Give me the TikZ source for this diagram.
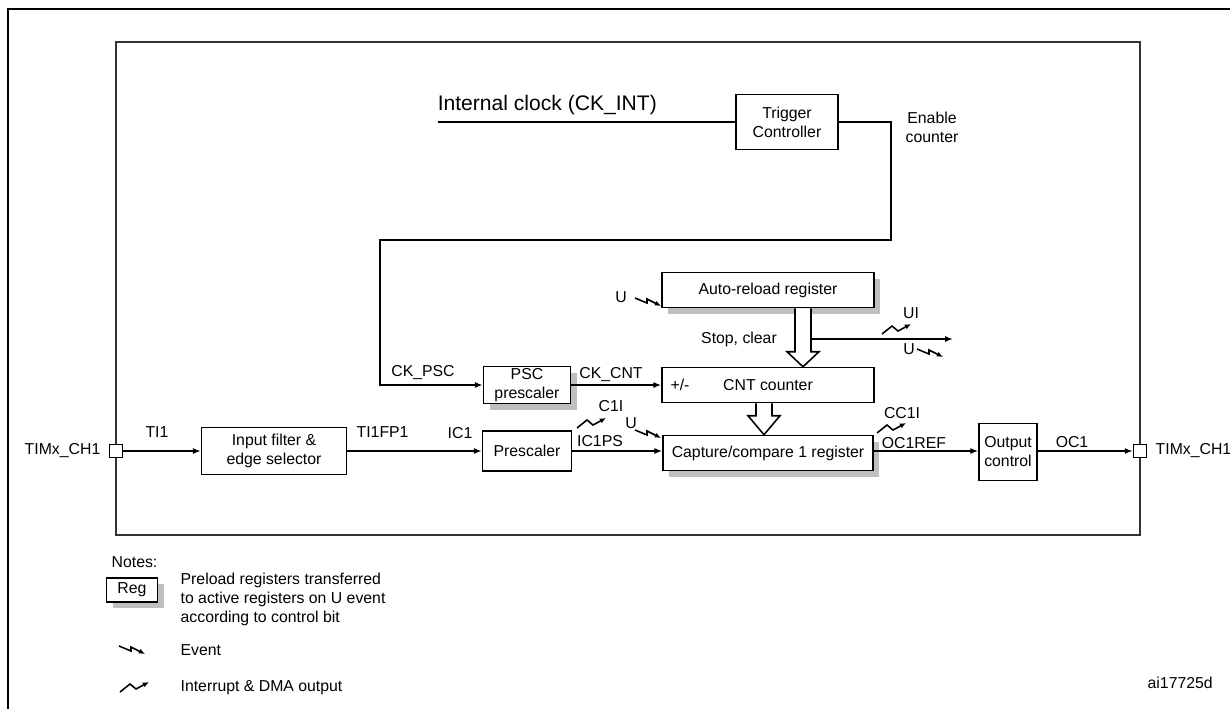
\documentclass[tikz,border=0pt]{standalone}
\usepackage{fontspec}
\setmainfont{Liberation Sans}
\usetikzlibrary{arrows.meta,shadows,calc,positioning}

\tikzset{
  box/.style={draw, fill=white, align=center, inner sep=1pt},
  reg/.style={box, drop shadow={shadow xshift=3.5pt, shadow yshift=-3.5pt, fill=black!25, opacity=1}},
  port/.style={draw, fill=white, minimum size=0.26cm, inner sep=0pt},
  hollow/.style={draw, fill=white},
  evt/.pic={\draw[-{Latex[length=3.5pt,width=3pt]}] (0,0) -- (12,5) -- (12,1) -- (26,8);},
  intr/.pic={\draw[-{Latex[length=3.5pt,width=3pt]}] (0,10) -- (10,2) -- (16,7) -- (29,0);}
}

\begin{document}
\begin{tikzpicture}[x=0.02cm, y=-0.02cm, line width=0.9pt, >={Latex[length=4.5pt,width=3.5pt]},
	font=\fontsize{9}{10.8}\selectfont]
	\useasboundingbox (0,0) rectangle (1230,708);
	% frames
	\draw[line width=1.5pt] (1250,9) -- (8,9) -- (8,730);
	\draw[black!80, line width=1.2pt] (116,42) rectangle (1140,535);
	
	% clock and trigger
	\node[box, minimum width=2.04cm, minimum height=1.1cm] (trig) at (787,122) {Trigger\\Controller};
	\coordinate (clk) at (438,122);
	\node[anchor=base west, inner sep=0pt, font=\fontsize{12}{14}\selectfont] at (437,110) {Internal clock (CK\_INT)};
	\draw (clk) -- (trig);
	\node[align=center] at (932,127) {Enable\\counter};
	\coordinate (bend1) at (891,240);
	\coordinate (bend2) at (380,240);
	
	% counter
	\node[reg, minimum width=4.24cm, minimum height=0.7cm] (arr) at (768,290) {Auto-reload register};
	\node[box, minimum width=4.24cm, minimum height=0.7cm] (cnt) at (768,385) {CNT counter};
	\node[reg, minimum width=1.74cm, minimum height=0.72cm] (psc) at (527,385) {PSC\\prescaler};
	\draw[->] (trig) -| (bend1) -- (bend2) |- (psc);
	\draw[->] (psc) -- (cnt);
	\node at (423,373) {CK\_PSC};
	\node at (611,375) {CK\_CNT};
	\node at (680,385) {+/-};
	\node at (621,297) {U};
	\pic at (635,298) {evt};
	
	\coordinate (h1) at ($(arr.south)+(35,0)$);
	\coordinate (h1e) at ($(cnt.north)+(35,0)$);
	\draw[hollow] ($(h1)+(-8,0)$) -- ($(h1e)+(-8,-15)$) -- ($(h1e)+(-16,-15)$) -- (h1e)
		-- ($(h1e)+(16,-15)$) -- ($(h1e)+(8,-15)$) -- ($(h1)+(8,0)$);
	\coordinate (uiout) at (953,339);
	\draw[->] (uiout -| h1) ++(8,0) -- (uiout);
	\node at (739,339) {Stop, clear};
	\node at (911,313) {UI};
	\pic at (882,324) {intr};
	\node at (909,349) {U};
	\pic at (917,349) {evt};
	
	% channel
	\node[port] (pl) at (116,451) {};
	\node[left=1pt of pl] {TIMx\_CH1};
	\node[box, minimum width=2.9cm, minimum height=0.94cm] (filt) at (274,451) {Input filter \&\\edge selector};
	\node[box, minimum width=1.78cm, minimum height=0.8cm] (pre) at (527,451) {Prescaler};
	\node[reg, minimum width=4.2cm, minimum height=0.7cm] (cap) at (768,453) {Capture/compare 1 register};
	\node[box, minimum width=1.16cm, minimum height=1.14cm] (out) at (1008,452) {Output\\control};
	\node[port] (pr) at (1140,451) {};
	\node[right=1pt of pr] {TIMx\_CH1};
	
	\draw[->] (pl) -- (filt);
	\draw[->] (filt) -- (pre);
	\draw[->] (pre) -- (pre -| cap.west);
	\draw[->] (pre -| cap.east) -- (pre -| out.west);
	\draw[->] (pre -| out.east) -- (pr);
	
	\coordinate (h2) at ($(cnt.south)+(-4,0)$);
	\coordinate (h2e) at ($(cap.north)+(-4,0)$);
	\draw[hollow] ($(h2)+(-8,0)$) -- ($(h2e)+(-8,-19)$) -- ($(h2e)+(-16,-19)$) -- (h2e)
		-- ($(h2e)+(16,-19)$) -- ($(h2e)+(8,-19)$) -- ($(h2)+(8,0)$);
	
	\node at (157,432) {TI1};
	\node[anchor=west] at (350,432) {TI1FP1};
	\node at (460,433) {IC1};
	\node at (600,441) {IC1PS};
	\node at (611,406) {C1I};
	\pic at (577,418) {intr};
	\node at (631,423) {U};
	\pic at (635,430) {evt};
	\node at (902,413) {CC1I};
	\pic at (877,423) {intr};
	\node at (914,443) {OC1REF};
	\node at (1072,442) {OC1};
	
	% notes
	\node[anchor=west] at (105,562) {Notes:};
	\node[reg, minimum width=1.02cm, minimum height=0.48cm] (legreg) at (132,590) {Reg};
	\node[anchor=west, align=left] at (174,599) {Preload registers transferred\\to active registers on U event\\according to control bit};
	\pic at (119,646) {evt};
	\node[anchor=west] at (174,650) {Event};
	\pic at (120,682) {intr};
	\node[anchor=west] at (174,688) {Interrupt \& DMA output};
	\node[anchor=west] at (1141,683) {ai17725d};
\end{tikzpicture}
\end{document}
